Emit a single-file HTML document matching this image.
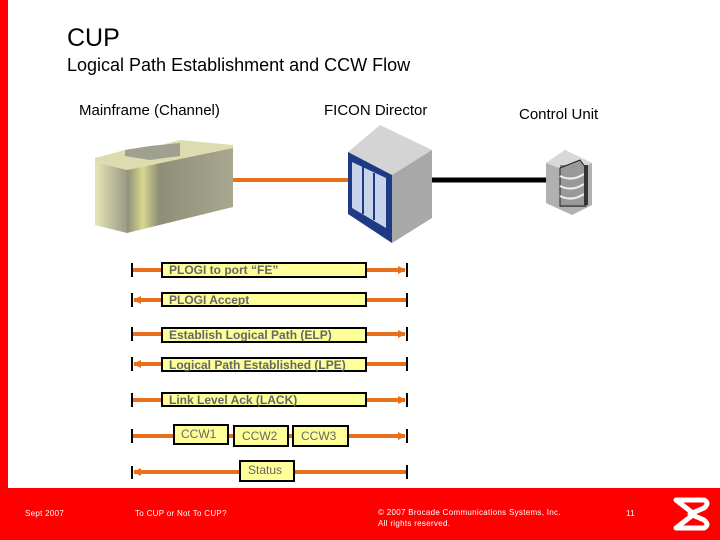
<!DOCTYPE html>
<html><head><meta charset="utf-8"><style>
body{margin:0;width:720px;height:540px;overflow:hidden;background:#fff;font-family:"Liberation Sans",sans-serif;position:relative}
.t{position:absolute;white-space:nowrap;color:#000}
.f{position:absolute;color:#fff;font-size:8px;white-space:nowrap;letter-spacing:0.3px}
</style></head><body>
<div style="position:absolute;left:0;top:0;width:8px;height:540px;background:#f00"></div>
<div style="position:absolute;left:0;top:488px;width:720px;height:52px;background:#f00"></div>
<div class="t" style="left:67px;top:24px;font-size:25px">CUP</div>
<div class="t" style="left:67px;top:55px;font-size:18px">Logical Path Establishment and CCW Flow</div>
<div class="t" style="left:79px;top:102px;font-size:15px">Mainframe (Channel)</div>
<div class="t" style="left:324px;top:102px;font-size:15px">FICON Director</div>
<div class="t" style="left:519px;top:106px;font-size:15px">Control Unit</div>
<svg width="720" height="540" style="position:absolute;left:0;top:0">
<defs>
<linearGradient id="g1" x1="0" x2="1"><stop offset="0" stop-color="#e6e6b4"/><stop offset="1" stop-color="#9a9a88"/></linearGradient>
<linearGradient id="g2" x1="0" x2="1"><stop offset="0" stop-color="#8e8e78"/><stop offset="0.15" stop-color="#d8d890"/><stop offset="0.3" stop-color="#8e8e78"/><stop offset="1" stop-color="#a8a890"/></linearGradient>
<marker id="a" markerWidth="8" markerHeight="8" refX="7" refY="4" orient="auto" markerUnits="userSpaceOnUse"><path d="M0,0 L8,4 L0,8z" fill="#e8701a"/></marker>
</defs>
<line x1="233" y1="180" x2="350" y2="180" stroke="#e8701a" stroke-width="4"/>
<line x1="430" y1="180" x2="548" y2="180" stroke="#000" stroke-width="5"/>
<!-- mainframe -->
<polygon points="95,162 127,170 233,148 233,145 180,140 150,148 125,150 95,158" fill="#dcdcb0"/>
<polygon points="125,150 150,146 180,143 180,156 150,160 125,156" fill="#a0a090"/>
<polygon points="95,162 127,170 127,233 95,225" fill="url(#g1)"/>
<polygon points="127,170 233,148 233,207 127,233" fill="url(#g2)"/>
<!-- director -->
<polygon points="348,152 380,125 432,150 392,175" fill="#d4d4d4"/>
<polygon points="392,175 432,150 432,218 392,243" fill="#a8a8a8"/>
<polygon points="348,152 392,175 392,243 348,214" fill="#1e3a84"/>
<polygon points="352,162 386,178 386,228 352,208" fill="#c8d4ec"/>
<line x1="363" y1="167" x2="363" y2="214" stroke="#1e3a84" stroke-width="2"/>
<line x1="374" y1="173" x2="374" y2="220" stroke="#1e3a84" stroke-width="2"/>
<!-- control unit -->
<polygon points="546,163 565,150 592,163 592,205 572,215 546,203" fill="#b0b0b0"/>
<polygon points="546,163 565,150 592,163 572,173" fill="#d8d8d8"/>
<rect x="560" y="165" width="26" height="42" fill="#888" />
<path d="M560,168 L580,160 L586,168 L586,206 L560,206z" fill="#999" stroke="#222" stroke-width="1"/>
<path d="M560,176 Q572,182 584,174 M560,186 Q572,192 584,184 M560,196 Q572,202 584,194" stroke="#eee" stroke-width="2" fill="none"/>
<rect x="584" y="165" width="4" height="40" fill="#333"/>
<g stroke="#e8701a" stroke-width="4">
<line x1="132" y1="270" x2="405" y2="270" marker-end="url(#a)"/>
<line x1="407" y1="300" x2="134" y2="300" marker-end="url(#a)"/>
<line x1="132" y1="334" x2="405" y2="334" marker-end="url(#a)"/>
<line x1="407" y1="364" x2="134" y2="364" marker-end="url(#a)"/>
<line x1="132" y1="400" x2="405" y2="400" marker-end="url(#a)"/>
<line x1="132" y1="436" x2="405" y2="436" marker-end="url(#a)"/>
<line x1="407" y1="472" x2="134" y2="472" marker-end="url(#a)"/>
</g>
<g stroke="#000" stroke-width="2">
<line x1="132" y1="263" x2="132" y2="277"/><line x1="407" y1="263" x2="407" y2="277"/>
<line x1="132" y1="293" x2="132" y2="307"/><line x1="407" y1="293" x2="407" y2="307"/>
<line x1="132" y1="327" x2="132" y2="341"/><line x1="407" y1="327" x2="407" y2="341"/>
<line x1="132" y1="357" x2="132" y2="371"/><line x1="407" y1="357" x2="407" y2="371"/>
<line x1="132" y1="393" x2="132" y2="407"/><line x1="407" y1="393" x2="407" y2="407"/>
<line x1="132" y1="429" x2="132" y2="443"/><line x1="407" y1="429" x2="407" y2="443"/>
<line x1="132" y1="466" x2="132" y2="479"/><line x1="407" y1="465" x2="407" y2="479"/>
</g>
<g fill="#ffff99" stroke="#000" stroke-width="2">
<rect x="162" y="263" width="204" height="14"/>
<rect x="162" y="293" width="204" height="13"/>
<rect x="162" y="328" width="204" height="14"/>
<rect x="162" y="358" width="204" height="13"/>
<rect x="162" y="393" width="204" height="13"/>
<rect x="174" y="425" width="54" height="19"/>
<rect x="234" y="426" width="54" height="20"/>
<rect x="293" y="426" width="55" height="20"/>
<rect x="240" y="461" width="54" height="20"/>
</g>
<g font-family="Liberation Sans,sans-serif" font-size="12" font-weight="bold" fill="#666">
<text x="169" y="274">PLOGI to port “FE”</text>
<text x="169" y="304">PLOGI Accept</text>
<text x="169" y="339">Establish Logical Path (ELP)</text>
<text x="169" y="369">Logical Path Established (LPE)</text>
<text x="169" y="404">Link Level Ack (LACK)</text>
<text x="181" y="438" font-weight="normal">CCW1</text>
<text x="242" y="440" font-weight="normal">CCW2</text>
<text x="301" y="440" font-weight="normal">CCW3</text>
<text x="248" y="474" font-weight="normal">Status</text>
</g>
<path d="M676,500 L704,500 Q710,503 704,508 L690,514 L704,520 Q710,525 704,528 L676,528 L694,514 Z" fill="none" stroke="#fff" stroke-width="5" stroke-linejoin="round"/>
</svg>
<div class="f" style="left:25px;top:509px">Sept 2007</div>
<div class="f" style="left:135px;top:509px">To CUP or Not To CUP?</div>
<div class="f" style="left:378px;top:508px">© 2007 Brocade Communications Systems, Inc.</div>
<div class="f" style="left:378px;top:519px">All rights reserved.</div>
<div class="f" style="left:626px;top:509px">11</div>
</body></html>
